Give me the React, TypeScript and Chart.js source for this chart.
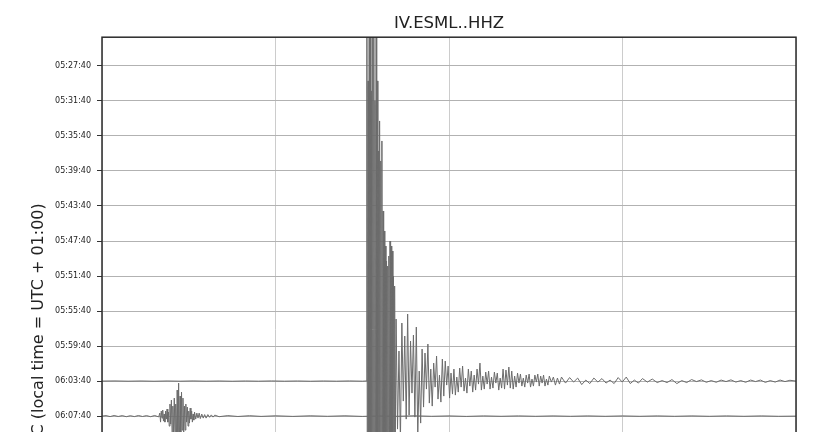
import { useEffect, useRef } from "react";
import { Chart, registerables } from "chart.js";

Chart.register(...registerables);

const FONT = "DejaVu Sans";
const TITLE = "IV.ESML..HHZ";
const Y_AXIS_TITLE = "UTC (local time = UTC + 01:00)";

// Row start times (each row spans 4 minutes)
const ROW_LABELS = [
  "05:27:40", "05:31:40", "05:35:40", "05:39:40", "05:43:40", "05:47:40",
  "05:51:40", "05:55:40", "05:59:40", "06:03:40", "06:07:40", "06:11:40",
  "06:15:40", "06:19:40", "06:23:40", "06:27:40",
];
const X_TICKS_SECONDS = [0, 60, 120, 180, 240];

// amplitude counts equal to one row spacing
const COUNTS_PER_ROW = 35;

// ---- Row 06:03:40 (main shock) ----
const R9_PRE_T = [0, 4.5, 9, 13.5, 18, 22.5, 27, 31.5, 36, 40.5, 45, 49.6, 54.1, 58.6, 63.1, 67.6, 72.1, 76.6, 81.1, 85.6, 90.1, 91.3];
const R9_PRE_A = [0, 0.15, -0.1, 0.1, -0.15, 0.1, -0.1, 0.15, -0.1, 0.1, -0.15, 0.1, -0.1, 0.15, -0.1, 0.1, -0.15, 0.1, -0.1, 0.15, -0.1, 0.1];

const R9_MAIN_T = [91.6, 91.8, 92.0, 92.2, 92.4, 92.6, 92.8, 93.0, 93.2, 93.4, 93.6, 93.8, 94.0, 94.2, 94.4, 94.6, 94.8, 95.0, 95.2, 95.4, 95.6, 95.8, 96.0, 96.2, 96.4, 96.6, 96.8, 97.0, 97.2, 97.4, 97.6, 97.8, 98.0, 98.2, 98.4, 98.6, 98.8, 99.0, 99.2, 99.4, 99.6, 99.8, 100.0, 100.2, 100.4, 100.6, 100.8, 101.0, 101.2, 101.4];
const R9_MAIN_A = [420, -380, 300, -450, 480, -500, 380, -420, 290, -480, 500, -400, 420, -380, 280, -350, 360, -320, 300, -280, 230, -260, 260, -230, 220, -210, 240, -200, 170, -180, 150, -160, 135, -150, 120, -135, 115, -130, 125, -120, 140, -110, 135, -100, 130, -90, 105, -80, 95, -70];

const R9_CODA_T = [101.7, 102.2, 102.7, 103.2, 103.7, 104.2, 104.7, 105.2, 105.7, 106.2, 106.7, 107.2, 107.7, 108.2, 108.7, 109.2, 109.7, 110.2, 110.7, 111.2, 111.7, 112.2, 112.7, 113.2, 113.7, 114.2, 114.7, 115.2, 115.7, 116.2, 116.7, 117.2, 117.7, 118.2, 118.7, 119.2, 119.7, 120.2, 120.7, 121.2, 121.7, 122.2, 122.7, 123.2, 123.7, 124.2, 124.7, 125.2, 125.7, 126.2, 126.7, 127.2, 127.7, 128.2, 128.7, 129.2, 129.7, 130.2, 130.7, 131.2, 131.7, 132.2, 132.7, 133.2, 133.7, 134.2, 134.7, 135.2, 135.7, 136.2, 136.7, 137.2, 137.7, 138.2, 138.7, 139.2, 139.7, 140.2, 140.7, 141.2, 141.7, 142.2, 142.7, 143.2, 143.7, 144.2, 144.7, 145.2, 145.7, 146.2, 146.7, 147.2, 147.7, 148.2, 148.7, 149.2, 149.7, 150.2, 150.7, 151.2, 151.7, 152.2, 152.7, 153.2, 153.7, 154.2, 154.7, 155.4, 156.1, 156.8, 157.5, 158.2];
const R9_CODA_A = [
  62, -48, 30, -60, 58, -20, 45, -38, 67, -34,
  40, -12, 46, -36, 54, -55, 10, -42, 32, -26,
  28, -8, 37, -22, 12, -25, 18, -6, 25, -18,
  6, -21, 22, -15, 20, -4, 15, -17, 8, -13,
  12, -14, 4, -11, 13, -6, 15, -10, 3, -12,
  12, -5, 10, -11, 6, -9, 12, -3, 18, -9,
  5, -8, 9, -3, 10, -8, 4, -7, 9, -2,
  8, -9, 3, -7, 12, -8, 11, -4, 14, -7,
  10, -8, 5, -6, 8, -2, 7, -5, 3, -6,
  6, -2, 7, -6, 2, -5, 6, -1, 7, -5,
  5, -2, 6, -5, 2, -4, 5, -1, 4, -4,
  3, -3,
];

const R9_TAIL_T = [158.9, 160.3, 161.7, 163.1, 164.5, 165.9, 167.3, 168.7, 170.1, 171.5, 172.9, 174.3, 175.7, 177.1, 178.5, 179.9, 181.3, 182.7, 184.1, 185.5, 186.9, 188.6, 190.3, 192.0, 193.7, 195.4, 197.1, 198.8, 200.5, 202.2, 203.9, 205.6, 207.3, 209.0, 210.7, 212.4, 214.1, 215.8, 217.5, 219.2, 220.9, 222.6, 224.3, 226.0, 227.7, 229.4, 231.1, 232.8, 234.5, 236.2, 237.9, 240];
const R9_TAIL_A = [4, -2, 3.5, -1, 3, -3.5, 1, -2.5, 3, -1, 2.5, -2, 1, -2.5, 3.5, -1, 4, -2.5, 1, -2, 2.5, -1, 2, -1.5, 0.5, -1.5, 1.5, -2.5, 0.5, -1.5, 1.5, -0.5, 1.2, -1.2, 0.5, -1.2, 1, -0.5, 1.2, -1, 0.5, -1.2, 1, -0.5, 1, -1.3, 0.5, -1, 1, -0.5, 0.8, 0];

// ---- Row 06:07:40 (small event) ----
const R10_PRE_T = [0, 1.4, 2.8, 4.2, 5.6, 7.0, 8.4, 9.8, 11.2, 12.6, 14.0, 15.4, 16.8, 18.2, 19.6];
const R10_PRE_A = [0, 0.5, -0.5, 0.6, -0.4, 0.5, -0.6, 0.4, -0.5, 0.6, -0.4, 0.5, -0.6, 0.6, -0.8];

const R10_EVT_T = [20.0, 20.25, 20.5, 20.75, 21.0, 21.25, 21.5, 21.75, 22.0, 22.25, 22.5, 22.75, 23.0, 23.25, 23.5, 23.75, 24.0, 24.25, 24.5, 24.75, 25.0, 25.25, 25.5, 25.75, 26.0, 26.25, 26.5, 26.75, 27.0, 27.25, 27.5, 27.75, 28.0, 28.25, 28.5, 28.75, 29.0, 29.25, 29.5, 29.75, 30.0, 30.25, 30.5, 30.75, 31.0, 31.25, 31.5, 31.75, 32.0, 32.4, 32.8, 33.2, 33.6, 34.0, 34.5, 35.0, 35.5, 36.0, 36.6, 37.2, 37.8, 38.4, 39.0];
const R10_EVT_A = [
  3, -6, 5, -2, 6, -5, 2, -6, 5, -3,
  7, -6, 4, -10, 12, -8, 16, -18, 10, -20,
  18, -22, 12, -25, 26, -18, 33, -30, 20, -26,
  24, -14, 18, -20, 10, -14, 12, -6, 9, -10,
  5, -7, 8, -3, 5, -6, 2, -4, 4,
  -3, 3, -2, 3, -2.5, 2, -2, 1.5, -2, 1.5, -1.2, 1.2, -1, 1,
];

const R10_POST_T = [40.5, 43.5, 47, 51, 55, 60, 66, 72, 78, 84, 90, 96, 102, 108, 114, 120, 126, 132, 138, 144, 150, 156, 162, 168, 174, 180, 186, 192, 198, 204, 210, 216, 222, 228, 234, 240];
const R10_POST_A = [-0.6, 0.5, -0.4, 0.4, -0.3, 0.3, -0.3, 0.3, -0.2, 0.3, -0.3, 0.2, -0.2, 0.3, -0.2, 0.2, -0.3, 0.2, -0.2, 0.2, -0.2, 0.2, -0.2, 0.2, -0.2, 0.2, -0.2, 0.2, -0.2, 0.2, -0.2, 0.2, -0.2, 0.2, -0.2, 0];

const TRACE_COLOR = "#6c6c6c";

function trace(row: number, segments: [number[], number[]][]) {
  const pts: { x: number; y: number }[] = [];
  for (const [ts, as] of segments) {
    const n = Math.min(ts.length, as.length);
    for (let i = 0; i < n; i++) pts.push({ x: ts[i], y: row - as[i] / COUNTS_PER_ROW });
  }
  return pts;
}

const framePlugin = {
  id: "frame",
  afterDraw(chart: any) {
    const { ctx, chartArea: a } = chart;
    ctx.save();
    ctx.strokeStyle = "#2b2b2b";
    ctx.lineWidth = 1.5;
    ctx.strokeRect(a.left, a.top, a.right - a.left, a.bottom - a.top);
    ctx.restore();
  },
};

export default function App() {
  const ref = useRef<HTMLCanvasElement | null>(null);

  useEffect(() => {
    if (!ref.current) return;
    Chart.defaults.font.family = FONT;
    const chart = new Chart(ref.current, {
      type: "line",
      data: {
        datasets: [
          {
            data: trace(9, [[R9_PRE_T, R9_PRE_A], [R9_MAIN_T, R9_MAIN_A], [R9_CODA_T, R9_CODA_A], [R9_TAIL_T, R9_TAIL_A]]),
            borderColor: TRACE_COLOR,
            borderWidth: 1,
            pointRadius: 0,
            tension: 0,
            fill: false,
          },
          {
            data: trace(10, [[R10_PRE_T, R10_PRE_A], [R10_EVT_T, R10_EVT_A], [R10_POST_T, R10_POST_A]]),
            borderColor: TRACE_COLOR,
            borderWidth: 1,
            pointRadius: 0,
            tension: 0,
            fill: false,
          },
        ],
      },
      options: {
        animation: false,
        responsive: false,
        events: [],
        layout: { padding: { left: 0, right: 32, top: 0, bottom: 0 } },
        plugins: {
          legend: { display: false },
          tooltip: { enabled: false },
          title: {
            display: true,
            text: TITLE,
            fullSize: false,
            color: "#222",
            font: { family: FONT, size: 16.5, weight: "normal" },
            padding: { top: 14, bottom: 3.4 },
          },
        },
        scales: {
          x: {
            type: "linear",
            min: 0,
            max: 240,
            afterFit: (s: any) => { s.height = 40; },
            afterBuildTicks: (s: any) => { s.ticks = X_TICKS_SECONDS.map((v) => ({ value: v })); },
            ticks: {
              callback: (v: any) => String(Number(v) / 60),
              color: "#222",
              font: { family: FONT, size: 8 },
              padding: 4,
            },
            grid: { color: "#cccccc", lineWidth: 1, tickLength: 5, tickColor: "#333" },
            border: { display: false },
          },
          y: {
            type: "linear",
            reverse: true,
            min: -0.82,
            max: 15.88,
            afterFit: (s: any) => { s.width = 102; },
            afterBuildTicks: (s: any) => { s.ticks = ROW_LABELS.map((_, i) => ({ value: i })); },
            ticks: {
              autoSkip: false,
              callback: (v: any) => ROW_LABELS[Math.round(Number(v))] ?? "",
              color: "#222",
              font: { family: FONT, size: 8 },
              padding: 6,
            },
            grid: { color: "#b2b2b2", lineWidth: 1, tickLength: 5, tickColor: "#333" },
            border: { display: false },
            title: {
              display: true,
              text: Y_AXIS_TITLE,
              color: "#222",
              font: { family: FONT, size: 16 },
              padding: { top: 29, bottom: 0 },
            },
          },
        },
      },
      plugins: [framePlugin],
    } as any);
    return () => chart.destroy();
  }, []);

  return (
    <div style={{ position: "fixed", left: 0, top: 0, width: 828, height: 432, overflow: "hidden", background: "#fff" }}>
      <canvas ref={ref} width={828} height={662} style={{ display: "block", width: 828, height: 662 }} />
    </div>
  );
}
